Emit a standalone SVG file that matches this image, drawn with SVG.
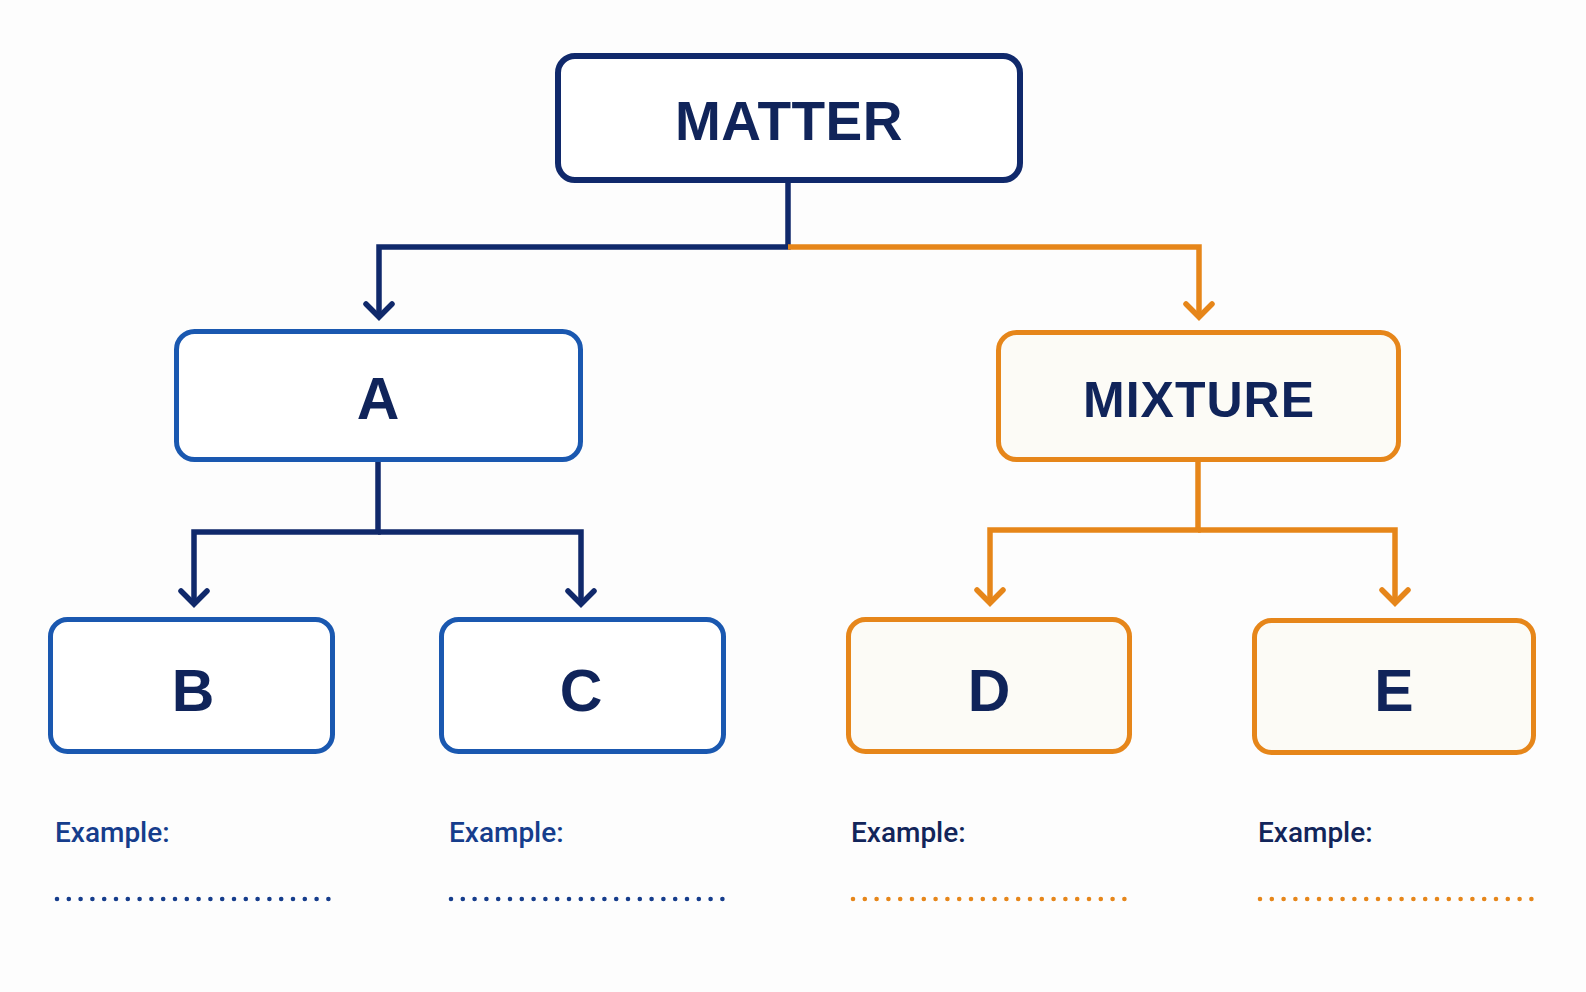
<svg xmlns="http://www.w3.org/2000/svg" width="1586" height="992" viewBox="0 0 1586 992">
<style>
.bg{fill:#fdfdfd}
.box-navy{fill:#ffffff;stroke:#10296b;stroke-width:6}
.box-blue{fill:#ffffff;stroke:#1a58b0;stroke-width:5}
.box-orange{fill:#fcfbf6;stroke:#e6861a;stroke-width:5}
.lbl{font-family:"Liberation Sans",Arial,sans-serif;font-weight:bold;fill:#10245a;text-anchor:middle}
.big{font-size:55px;letter-spacing:0.5px}
.mid{font-size:50px;letter-spacing:1px}
.letter{font-size:59px}
.ex{font-family:Roboto,"Liberation Sans",sans-serif;font-weight:500;font-size:28px}
.ex-blue{fill:#163d8c}
.ex-navy{fill:#12255a}
.c-navy{fill:none;stroke:#10296b;stroke-width:5.5;stroke-linejoin:miter}
.c-orange{fill:none;stroke:#e6861a;stroke-width:5.5;stroke-linejoin:miter}
.dots-blue{stroke:#163d8c;stroke-width:4.6;stroke-linecap:round;stroke-dasharray:0 11.8}
.dots-orange{stroke:#e6861a;stroke-width:4.6;stroke-linecap:round;stroke-dasharray:0 11.8}
</style>
<defs>
<marker id="arrNavy" markerUnits="userSpaceOnUse" viewBox="-18 -18 36 36" markerWidth="36" markerHeight="36" refX="0" refY="0" orient="auto">
<path d="M-13,-13 L0,0 L-13,13" fill="none" stroke="#10296b" stroke-width="5.5" stroke-linecap="round" stroke-linejoin="miter"/>
</marker>
<marker id="arrOrange" markerUnits="userSpaceOnUse" viewBox="-18 -18 36 36" markerWidth="36" markerHeight="36" refX="0" refY="0" orient="auto">
<path d="M-13,-13 L0,0 L-13,13" fill="none" stroke="#e6861a" stroke-width="5.5" stroke-linecap="round" stroke-linejoin="miter"/>
</marker>
</defs>
<rect class="bg" x="0" y="0" width="1586" height="992"/>
<g id="connectors">
<path class="c-navy" d="M788,183 L788,247 L379,247 L379,317" marker-end="url(#arrNavy)"/>
<path class="c-orange" d="M788,247 L1199,247 L1199,317" marker-end="url(#arrOrange)"/>
<path class="c-navy" d="M378,462 L378,532 L194,532 L194,604" marker-end="url(#arrNavy)"/>
<path class="c-navy" d="M378,532 L581,532 L581,604" marker-end="url(#arrNavy)"/>
<path class="c-orange" d="M1198,462 L1198,530 L990,530 L990,603" marker-end="url(#arrOrange)"/>
<path class="c-orange" d="M1198,530 L1395,530 L1395,603" marker-end="url(#arrOrange)"/>
</g>
<g id="node-matter">
<rect class="box-navy" x="558" y="56" width="462" height="124" rx="17"/>
<text class="lbl big" x="789" y="140">MATTER</text>
</g>
<g id="node-a">
<rect class="box-blue" x="176.5" y="331.5" width="404" height="128" rx="18"/>
<text class="lbl letter" x="378" y="419">A</text>
</g>
<g id="node-mixture">
<rect class="box-orange" x="998.5" y="332.5" width="400" height="127" rx="18"/>
<text class="lbl mid" x="1199" y="417">MIXTURE</text>
</g>
<g id="node-b">
<rect class="box-blue" x="50.5" y="619.5" width="282" height="132" rx="17"/>
<text class="lbl letter" x="193" y="711">B</text>
<text class="ex ex-blue" x="55" y="842">Example:</text>
<line class="dots-blue" x1="57" y1="899" x2="330.5" y2="899"/>
</g>
<g id="node-c">
<rect class="box-blue" x="441.5" y="619.5" width="282" height="132" rx="17"/>
<text class="lbl letter" x="581" y="711">C</text>
<text class="ex ex-blue" x="449" y="842">Example:</text>
<line class="dots-blue" x1="451" y1="899" x2="724.5" y2="899"/>
</g>
<g id="node-d">
<rect class="box-orange" x="848.5" y="619.5" width="281" height="132" rx="17"/>
<text class="lbl letter" x="989" y="711">D</text>
<text class="ex ex-navy" x="851" y="842">Example:</text>
<line class="dots-orange" x1="853" y1="899" x2="1126.5" y2="899"/>
</g>
<g id="node-e">
<rect class="box-orange" x="1254.5" y="620.5" width="279" height="132" rx="17"/>
<text class="lbl letter" x="1394" y="711">E</text>
<text class="ex ex-navy" x="1258" y="842">Example:</text>
<line class="dots-orange" x1="1260" y1="899" x2="1531.5" y2="899"/>
</g>
</svg>
